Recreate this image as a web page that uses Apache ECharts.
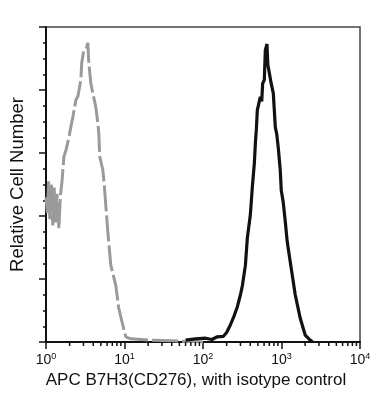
<!DOCTYPE html>
<html>
<head>
<meta charset="utf-8">
<script src="https://cdn.jsdelivr.net/npm/echarts@6/dist/echarts.min.js"></script>
<style>html,body{margin:0;padding:0;background:#fff;}#c{width:385px;height:396px;}</style>
</head>
<body>
<div id="c"></div>
<script>
// Isotype control (gray) histogram
var grayX = [1.00,1.04,1.08,1.12,1.17,1.22,1.27,1.32,1.38,1.46,1.52,1.60,1.69,1.80,1.96,2.10,2.20,2.40,2.55,2.78,2.85,3.03,3.30,3.41,3.51,3.72,3.95,4.31,4.57,4.70,4.84,5.30,5.50,5.78,6.13,6.69,7.74,8.44,9.50,10.4,12.0,20,40,100];
var grayY = [2.30,2.05,2.55,1.95,2.50,1.85,2.45,1.90,2.35,1.80,2.30,2.55,2.94,3.05,3.25,3.45,3.57,3.84,3.90,4.16,4.43,4.63,4.68,4.75,4.43,4.11,3.95,3.73,3.48,3.32,2.94,2.73,2.52,2.17,1.75,1.22,0.90,0.54,0.27,0.08,0.05,0.03,0.02,0.0];
// APC B7H3 (black) histogram
var blackX = [60,80,108,130,150,182,200,223,250,274,300,318,347,367,385,401,425,438,451,465,478,492,510,537,560,575,604,622,653,670,700,740,786,834,870,910,964,993,1052,1120,1183,1330,1496,1730,2003,2317,2500];
var blackY = [0.03,0.05,0.06,0.04,0.08,0.09,0.15,0.27,0.42,0.56,0.75,0.90,1.22,1.65,1.85,2.02,2.46,2.49,2.84,3.16,3.37,3.68,3.70,3.89,3.82,4.10,4.16,4.63,4.73,4.40,4.27,4.10,3.95,3.41,3.30,3.08,2.73,2.41,2.22,1.90,1.59,1.17,0.75,0.38,0.11,0.03,0.0];
// Log minor tick positions
var minorTicks = [2,3,4,5,6,7,8,9,20,30,40,50,60,70,80,90,200,300,400,500,600,700,800,900,2000,3000,4000,5000,6000,7000,8000,9000];

function pairs(xs, ys){ return xs.map(function(x,i){ return [x, ys[i]]; }); }

var chart = echarts.init(document.getElementById('c'), null, {renderer:'canvas'});
chart.setOption({
  backgroundColor:'#fff',
  animation:false,
  grid:{left:45, top:27, right:25, bottom:54, show:true, borderColor:'#444', borderWidth:1.5, backgroundColor:'transparent'},
  xAxis:{
    type:'log', logBase:10, min:1, max:10000,
    name:'APC B7H3(CD276), with isotype control', nameLocation:'middle', nameGap:29,
    nameTextStyle:{fontFamily:'Liberation Sans, Arial, sans-serif', fontSize:17, color:'#111', padding:[0,14,0,0]},
    axisLine:{lineStyle:{color:'#111', width:2}},
    axisTick:{show:true, inside:false, length:7, lineStyle:{color:'#111', width:1.5}},
    axisLabel:{margin:10, fontFamily:'Liberation Sans, Arial, sans-serif', color:'#111',
      formatter:function(v){ var e = Math.round(Math.log10(v)); return '{b|10}{s|' + e + '}'; },
      rich:{
        b:{fontSize:14, fontFamily:'Liberation Sans, Arial, sans-serif', color:'#111', lineHeight:16},
        s:{fontSize:9, fontFamily:'Liberation Sans, Arial, sans-serif', color:'#111', verticalAlign:'top', lineHeight:16, padding:[0,0,5,0]}
      }},
    splitLine:{show:false}
  },
  yAxis:{
    type:'value', min:0, max:5, interval:1,
    name:'Relative Cell Number', nameLocation:'middle', nameGap:19,
    nameTextStyle:{fontFamily:'Liberation Sans, Arial, sans-serif', fontSize:18.5, color:'#111'},
    axisLine:{show:true, lineStyle:{color:'#111', width:2}},
    axisTick:{show:true, inside:false, length:7, lineStyle:{color:'#111', width:1.5}},
    minorTick:{show:true, splitNumber:4, length:3, lineStyle:{color:'#111', width:1.5}},
    axisLabel:{show:false},
    splitLine:{show:false}
  },
  series:[
    {type:'line', data:pairs(grayX, grayY), symbol:'none', smooth:false,
     lineStyle:{color:'#9a9a9a', width:3, type:[26,4]}, z:2},
    {type:'line', data:pairs(blackX, blackY), symbol:'none', smooth:false,
     lineStyle:{color:'#111', width:3.2}, z:3},
    {type:'custom', clip:false, silent:true, data:minorTicks,
     encode:{x:0},
     renderItem:function(params, api){
       var p = api.coord([api.value(0), 0]);
       return {type:'line', shape:{x1:p[0], y1:p[1], x2:p[0], y2:p[1]+4},
               style:{stroke:'#111', lineWidth:1.5}};
     }, z:4}
  ]
});
</script>
</body>
</html>
